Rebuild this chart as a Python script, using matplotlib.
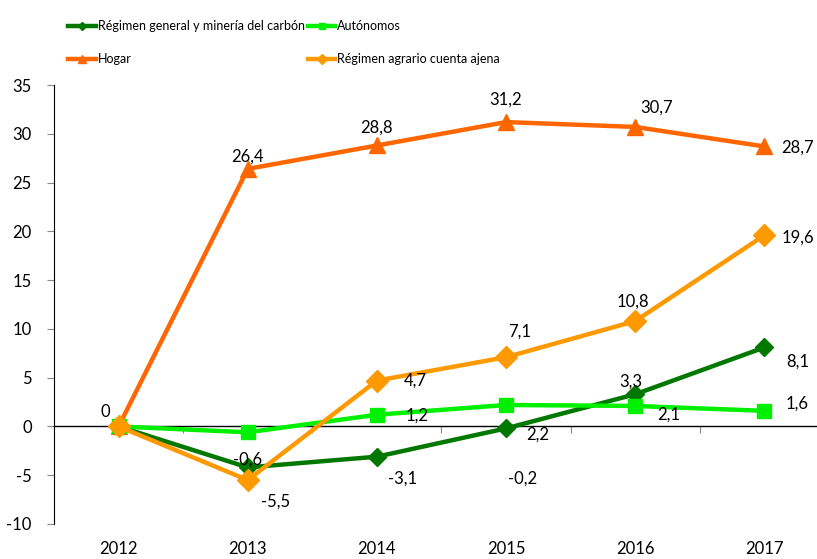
import matplotlib
matplotlib.use("Agg")
import matplotlib.pyplot as plt

plt.rcParams['font.family'] = ['Lato', 'DejaVu Sans']

years = ['2012', '2013', '2014', '2015', '2016', '2017']
general = [0, -4.2, -3.1, -0.2, 3.3, 8.1]
autonomos = [0, -0.6, 1.2, 2.2, 2.1, 1.6]
hogar = [0, 26.4, 28.8, 31.2, 30.7, 28.7]
agrario = [0, -5.5, 4.7, 7.1, 10.8, 19.6]
yticks = [-10, -5, 0, 5, 10, 15, 20, 25, 30, 35]

# label offsets in pixels (dx, dy), None = no label
general_off = [None, None, (26, -22), (16, -50), (-4, 13), (33, -14)]
autonomos_off = [None, (0, -27), (40, -1), (32, -30), (33, -9), (33, 7)]
hogar_off = [None, (0, 12), (0, 18), (0, 22), (21, 19), (33, -1)]
agrario_off = [(-13, 14), (28, -22), (38, 0), (14, 26), (-2, 19), (33, -2)]

fig = plt.figure(figsize=(8.17, 5.59), dpi=100)
ax = fig.add_axes([54 / 817, 35 / 559, 775 / 817, 439 / 559])

x = range(len(years))
l1, = ax.plot(x, general, color='#007800', lw=3.2, marker='D', ms=9, zorder=3)
l2, = ax.plot(x, autonomos, color='#00F000', lw=3.2, marker='s', ms=10, zorder=4)
l3, = ax.plot(x, hogar, color='#FF6600', lw=3.2, marker='^', ms=12, zorder=2)
l4, = ax.plot(x, agrario, color='#FF9900', lw=3.2, marker='D', ms=11, zorder=5)


def fmt(v):
    s = ('%.1f' % v).replace('.', ',')
    return '0' if v == 0 else s


for vals, offs in [(general, general_off), (autonomos, autonomos_off),
                   (hogar, hogar_off), (agrario, agrario_off)]:
    for i, (v, o) in enumerate(zip(vals, offs)):
        if o is None:
            continue
        ax.annotate(fmt(v), (i, v), xytext=(o[0] * 0.72, o[1] * 0.72),
                    textcoords='offset points', ha='center', va='center',
                    fontsize=12, color='black', zorder=6, annotation_clip=False)

ax.set_xlim(-0.5, 5.5)
ax.set_ylim(-10, 35)
ax.set_yticks(yticks)
ax.set_yticklabels([str(t) for t in yticks], fontsize=12)
ax.tick_params(axis='y', length=5, color='#888888', pad=11)

# category axis sits on y=0, year labels at the bottom
ax.spines['top'].set_visible(False)
ax.spines['right'].set_visible(False)
ax.spines['bottom'].set_position(('data', 0))
ax.spines['bottom'].set_linewidth(1)
ax.set_xticks([i + 0.5 for i in range(len(years) - 1)])
ax.set_xticklabels([])
ax.tick_params(axis='x', length=5, direction='out', color='#888888')
for i, yr in enumerate(years):
    ax.annotate(yr, (i, -10), xytext=(0, -17 * 0.72), textcoords='offset points',
                ha='center', va='top', fontsize=12, annotation_clip=False)

labels = ['Régimen general y minería del carbón', 'Autónomos',
          'Hogar', 'Régimen agrario cuenta ajena']
fig.legend([l1, l3, l2, l4], [labels[0], labels[2], labels[1], labels[3]],
           ncol=2, loc='upper left', bbox_to_anchor=(57 / 817, 1 - 9 / 559),
           frameon=False, fontsize=9, handlelength=2.2, handletextpad=0.15,
           columnspacing=0.25, labelspacing=1.65, markerscale=0.5)

fig.savefig('out.png', dpi=100)
